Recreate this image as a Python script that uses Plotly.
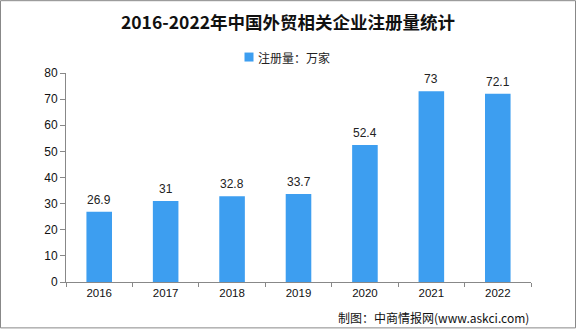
import plotly.graph_objects as go

years = ["2016", "2017", "2018", "2019", "2020", "2021", "2022"]
values = [26.9, 31, 32.8, 33.7, 52.4, 73, 72.1]
labels = ["26.9", "31", "32.8", "33.7", "52.4", "73", "72.1"]
series_name = "注册量：万家"
title = "2016-2022年中国外贸相关企业注册量统计"
source = "制图：中商情报网(www.askci.com)"

bar_color = "#3d9ef0"
font_family = "Noto Sans CJK SC, sans-serif"
num_font = "Liberation Sans, Arial, sans-serif"

L, T, R, B = 66, 73, 531, 282.5
PW, PH = R - L, B - T

def px(x):
    return (x - L) / PW

def py(y):
    return (B - y) / PH

fig = go.Figure()
fig.add_trace(go.Bar(
    x=years, y=values, name=series_name,
    marker=dict(color=bar_color, line=dict(width=0)),
    width=0.385, showlegend=False,
))

for i, (v, t) in enumerate(zip(values, labels)):
    fig.add_annotation(x=i, y=v, text=t, showarrow=False, yanchor="bottom",
                       yshift=3, font=dict(size=12, color="#222", family=num_font))

# legend
fig.add_shape(type="rect", xref="paper", yref="paper",
              x0=px(244.5), x1=px(253.5), y0=py(61.5), y1=py(52.5),
              fillcolor=bar_color, line=dict(width=0))
fig.add_annotation(xref="paper", yref="paper", x=px(256), y=py(57),
                   text=series_name, showarrow=False, xanchor="left", yanchor="middle",
                   font=dict(size=12, color="#222", family=font_family))

fig.add_annotation(xref="paper", yref="paper", x=px(531), y=py(318.5),
                   text=source, showarrow=False, xanchor="right", yanchor="middle",
                   font=dict(size=12, color="#111", family=font_family))

# outer frame
fig.add_shape(type="rect", xref="paper", yref="paper",
              x0=px(0.5), x1=px(575.5), y0=py(328.5), y1=py(0.5),
              line=dict(color="#888", width=1), fillcolor="rgba(0,0,0,0)", layer="below")

fig.update_layout(
    width=576, height=329,
    margin=dict(l=L, r=576 - R, t=T, b=329 - B),
    paper_bgcolor="white", plot_bgcolor="white",
    title=dict(text="<b>" + title + "</b>", x=288 / 576, xanchor="center", y=1 - 22.5 / 329,
               yanchor="middle", font=dict(size=17.5, color="#111", family=font_family)),
    xaxis=dict(type="category", range=[-0.5, len(years) - 0.5],
               showline=True, linecolor="#888", linewidth=1, ticks="outside",
               tickson="boundaries", ticklen=4, tickcolor="#888",
               tickfont=dict(size=11.5, color="#111", family=num_font),
               showgrid=False, zeroline=False, fixedrange=True),
    yaxis=dict(range=[0, 80], dtick=10, showline=True, linecolor="#888", linewidth=1,
               ticks="outside", ticklen=5, tickcolor="#888",
               tickfont=dict(size=12, color="#111", family=num_font),
               showgrid=False, zeroline=False),
)

fig.write_html("out.html")
